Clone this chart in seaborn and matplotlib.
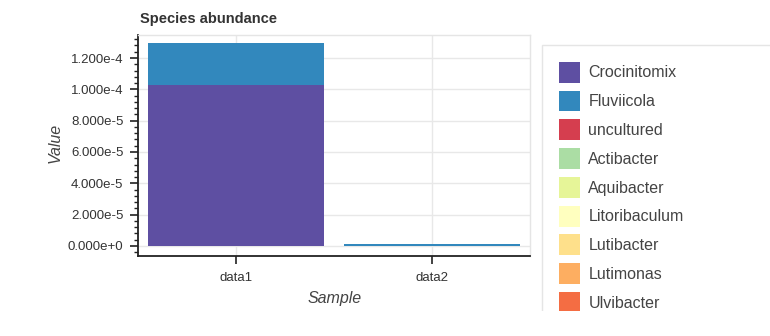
import numpy as np
import pandas as pd
import matplotlib
matplotlib.use("Agg")
import matplotlib.pyplot as plt
import seaborn as sns
from matplotlib.ticker import MultipleLocator, FixedLocator, FuncFormatter
from matplotlib.patches import Patch, Rectangle

# ---- data ----
samples = ["data1", "data2"]
species = ["Crocinitomix", "Fluviicola", "uncultured", "Actibacter", "Aquibacter",
           "Litoribaculum", "Lutibacter", "Lutimonas", "Ulvibacter"]
crocinitomix = [1.028e-4, 0.0]
fluviicola = [2.68e-5, 1.0e-6]
uncultured = [0.0, 0.0]
actibacter = [0.0, 0.0]
aquibacter = [0.0, 0.0]
litoribaculum = [0.0, 0.0]
lutibacter = [0.0, 0.0]
lutimonas = [0.0, 0.0]
ulvibacter = [0.0, 0.0]
colors = ["#5e4fa2", "#3288bd", "#d53e4f", "#abdda4", "#e6f598",
          "#ffffbf", "#fee08b", "#fdae61", "#f46d43"]

series = [crocinitomix, fluviicola, uncultured, actibacter, aquibacter,
          litoribaculum, lutibacter, lutimonas, ulvibacter]

rows = []
for sp, vals in zip(species, series):
    for s, v in zip(samples, vals):
        rows.append({"Sample": s, "Species": sp, "Value": v})
df = pd.DataFrame(rows)
df["Species"] = pd.Categorical(df["Species"], categories=species, ordered=True)
df = df.sort_values(["Sample", "Species"])
df["Cum"] = df.groupby("Sample")["Value"].cumsum()

# ---- style ----
sns.set_style("white")
plt.rcParams["font.family"] = ["Liberation Sans", "DejaVu Sans"]

W, H = 770, 336
fig = plt.figure(figsize=(W / 100, H / 100), dpi=100)
L, R, T, B = 138, 530, 35, 256
ax = fig.add_axes([L / W, 1 - B / H, (R - L) / W, (B - T) / H])

for sp, c in reversed(list(zip(species, colors))):
    sub = df[df["Species"] == sp]
    sns.barplot(data=sub, x="Sample", y="Cum", order=samples, color=c,
                saturation=1, width=0.9, errorbar=None, linewidth=0, ax=ax)

ax.set_xlim(-0.5, 1.5)
ax.set_ylim(-6.4e-6, 1.347e-4)

ax.yaxis.set_major_locator(FixedLocator([0, 2e-5, 4e-5, 6e-5, 8e-5, 1e-4, 1.2e-4]))
ax.yaxis.set_minor_locator(MultipleLocator(4e-6))


def fmt(v, pos):
    if v == 0:
        return "0.000e+0"
    e = int(np.floor(np.log10(abs(v))))
    m = v / 10 ** e
    if round(m, 3) >= 10:
        m /= 10
        e += 1
    sign = "+" if e >= 0 else "-"
    return f"{m:.3f}e{sign}{abs(e)}"


ax.yaxis.set_major_formatter(FuncFormatter(fmt))

ax.grid(True, which="major", color="#e8e8e8", linewidth=1)
ax.set_axisbelow(True)

for s in ["top", "right"]:
    ax.spines[s].set_color("#e5e5e5")
    ax.spines[s].set_linewidth(1)
for s in ["left", "bottom"]:
    ax.spines[s].set_color("#222222")
    ax.spines[s].set_linewidth(1.3)

ax.tick_params(axis="y", which="major", direction="out", length=5.5, width=1.2,
               color="#222222", labelsize=9.5, labelcolor="#333333", pad=5, left=True)
ax.tick_params(axis="y", which="minor", direction="out", length=3, width=1.0,
               color="#222222", left=True)
ax.tick_params(axis="x", which="major", direction="out", length=5.5, width=1.2,
               color="#222222", labelsize=9.5, labelcolor="#333333", pad=6, bottom=True)

ax.set_xlabel("")
ax.set_ylabel("")

fig.text(140 / W, 1 - 19 / H, "Species abundance", fontsize=10.5, fontweight="bold",
         color="#333333", ha="left", va="center")
fig.text(55 / W, 1 - 143 / H, "Value", fontsize=11.5, style="italic", color="#444444",
         rotation=90, ha="center", va="center")
fig.text(335 / W, 1 - 299 / H, "Sample", fontsize=11.5, style="italic", color="#444444",
         ha="center", va="center")

handles = [Patch(facecolor=c, edgecolor="none", label=sp) for sp, c in zip(species, colors)]
leg = fig.legend(handles=handles, loc="upper left",
                 bbox_to_anchor=(542 / W, 0, 1.0, 1 - 45 / H), mode="expand",
                 borderaxespad=0, frameon=True, fancybox=False, framealpha=1,
                 edgecolor="#e5e5e5", fontsize=11.5, handlelength=1.35, handleheight=1.64,
                 handletextpad=0.5, labelspacing=0.49, borderpad=1.05)
leg.get_frame().set_linewidth(1)
for t in leg.get_texts():
    t.set_color("#444444")

fig.add_artist(Rectangle((535 / W, 0), 1, (H - 311) / H, transform=fig.transFigure,
                         facecolor="white", edgecolor="none", zorder=100))

fig.savefig("out.png", dpi=100)
